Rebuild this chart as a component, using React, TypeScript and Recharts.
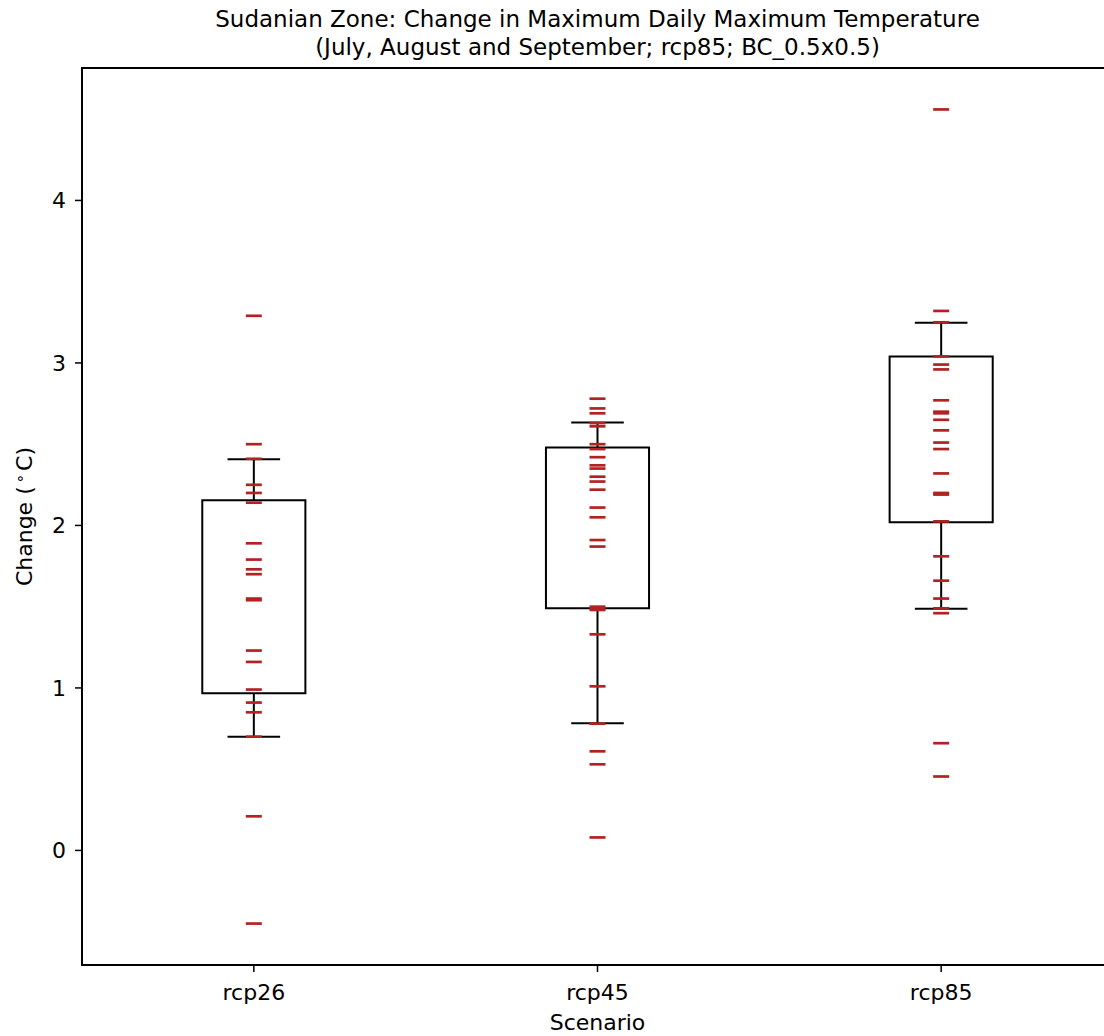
import React from 'react';
import { ComposedChart, XAxis, YAxis, Scatter, ReferenceArea, ReferenceLine } from 'recharts';

const scenarios = ['rcp26', 'rcp45', 'rcp85'];
const positions = [1, 2, 3];

const rcp26Values = [3.29, 2.50, 2.41, 2.25, 2.20, 2.14, 1.89, 1.79, 1.73, 1.70, 1.55, 1.54, 1.23, 1.16, 0.99, 0.91, 0.85, 0.70, 0.21, -0.45];
const rcp45Values = [2.78, 2.72, 2.69, 2.63, 2.61, 2.50, 2.47, 2.42, 2.37, 2.35, 2.30, 2.27, 2.22, 2.11, 2.05, 1.91, 1.87, 1.50, 1.49, 1.48, 1.33, 1.01, 0.78, 0.61, 0.53, 0.08];
const rcp85Values = [4.56, 3.32, 3.25, 3.04, 2.99, 2.96, 2.77, 2.70, 2.69, 2.65, 2.585, 2.51, 2.47, 2.32, 2.20, 2.19, 2.025, 1.81, 1.66, 1.55, 1.49, 1.46, 0.66, 0.455];

const whiskerLow = [0.70, 0.783, 1.488];
const quartile1 = [0.967, 1.49, 2.02];
const quartile3 = [2.155, 2.479, 3.039];
const whiskerHigh = [2.407, 2.633, 3.248];

const yTicks = [0, 1, 2, 3, 4];
const yDomain: [number, number] = [-0.705, 4.815];
const xDomain: [number, number] = [0.5, 3.5];

const allSeries = [rcp26Values, rcp45Values, rcp85Values];
const points = allSeries.flatMap((vals, i) => vals.map((v) => ({ x: positions[i], v })));

const FONT = "'DejaVu Sans', sans-serif";
const BOX_HALF = 0.15;
const CAP_HALF = 0.0765;

const XTick = (props: any) => {
  const { x, y, payload } = props;
  return (
    <text x={x} y={y + 26} textAnchor="middle" fontFamily={FONT} fontSize={22} fill="#000">
      {scenarios[payload.value - 1]}
    </text>
  );
};

const YTick = (props: any) => {
  const { x, y, payload } = props;
  return (
    <text x={x - 7} y={y + 8} textAnchor="end" fontFamily={FONT} fontSize={22} fill="#000">
      {String(payload.value)}
    </text>
  );
};

const Dash = (props: any) => {
  const { cx, cy } = props;
  if (cx == null || cy == null) return null;
  return <line x1={cx - 8} x2={cx + 8} y1={cy} y2={cy} stroke="#b22222" strokeWidth={2.7} />;
};

export default function App() {
  return (
    <div style={{ position: 'absolute', left: 0, top: 0, width: 1104, height: 1036, overflow: 'hidden', background: '#fff' }}>
      <ComposedChart width={1120} height={1036} margin={{ top: 68, right: 7, bottom: 0, left: 0 }}>
        <XAxis
          type="number"
          dataKey="x"
          domain={xDomain}
          ticks={positions}
          allowDataOverflow
          height={71}
          tickSize={7}
          tickLine={{ stroke: '#000', strokeWidth: 1.5 }}
          axisLine={{ stroke: '#000', strokeWidth: 2 }}
          tick={<XTick />}
        />
        <YAxis
          type="number"
          dataKey="v"
          domain={yDomain}
          ticks={yTicks}
          allowDataOverflow
          width={82}
          tickSize={7}
          tickLine={{ stroke: '#000', strokeWidth: 1.5 }}
          axisLine={{ stroke: '#000', strokeWidth: 2 }}
          tick={<YTick />}
        />
        <ReferenceArea x1={xDomain[0]} x2={xDomain[1]} y1={yDomain[0]} y2={yDomain[1]} fill="none" fillOpacity={0} stroke="#000" strokeWidth={2} ifOverflow="visible" />
        {positions.map((p, i) => (
          <ReferenceArea
            key={'box' + i}
            x1={p - BOX_HALF}
            x2={p + BOX_HALF}
            y1={quartile1[i]}
            y2={quartile3[i]}
            fill="none"
            fillOpacity={0}
            stroke="#000"
            strokeWidth={2}
            ifOverflow="visible"
          />
        ))}
        {positions.map((p, i) => (
          <ReferenceLine key={'wl' + i} segment={[{ x: p, y: whiskerLow[i] }, { x: p, y: quartile1[i] }]} stroke="#000" strokeWidth={2} ifOverflow="visible" />
        ))}
        {positions.map((p, i) => (
          <ReferenceLine key={'wh' + i} segment={[{ x: p, y: quartile3[i] }, { x: p, y: whiskerHigh[i] }]} stroke="#000" strokeWidth={2} ifOverflow="visible" />
        ))}
        {positions.map((p, i) => (
          <ReferenceLine key={'cl' + i} segment={[{ x: p - CAP_HALF, y: whiskerLow[i] }, { x: p + CAP_HALF, y: whiskerLow[i] }]} stroke="#000" strokeWidth={2} ifOverflow="visible" />
        ))}
        {positions.map((p, i) => (
          <ReferenceLine key={'ch' + i} segment={[{ x: p - CAP_HALF, y: whiskerHigh[i] }, { x: p + CAP_HALF, y: whiskerHigh[i] }]} stroke="#000" strokeWidth={2} ifOverflow="visible" />
        ))}
        <Scatter data={points} dataKey="v" shape={<Dash />} isAnimationActive={false} />
      </ComposedChart>
      <svg width={1104} height={1036} style={{ position: 'absolute', left: 0, top: 0, pointerEvents: 'none' }}>
        <text x={597.5} y={26.5} textAnchor="middle" fontFamily={FONT} fontSize={23} fill="#000">
          Sudanian Zone: Change in Maximum Daily Maximum Temperature
        </text>
        <text x={597.5} y={54.5} textAnchor="middle" fontFamily={FONT} fontSize={23} fill="#000">
          (July, August and September; rcp85; BC_0.5x0.5)
        </text>
        <text x={597.5} y={1030} textAnchor="middle" fontFamily={FONT} fontSize={22} fill="#000">
          Scenario
        </text>
        <text x={32} y={516.5} textAnchor="middle" fontFamily={FONT} fontSize={22} fill="#000" transform="rotate(-90, 32, 516.5)">
          <tspan>Change (</tspan>
          <tspan dx={3} dy={-7} fontSize={15}>∘</tspan>
          <tspan dx={3} dy={7}>C)</tspan>
        </text>
      </svg>
    </div>
  );
}
